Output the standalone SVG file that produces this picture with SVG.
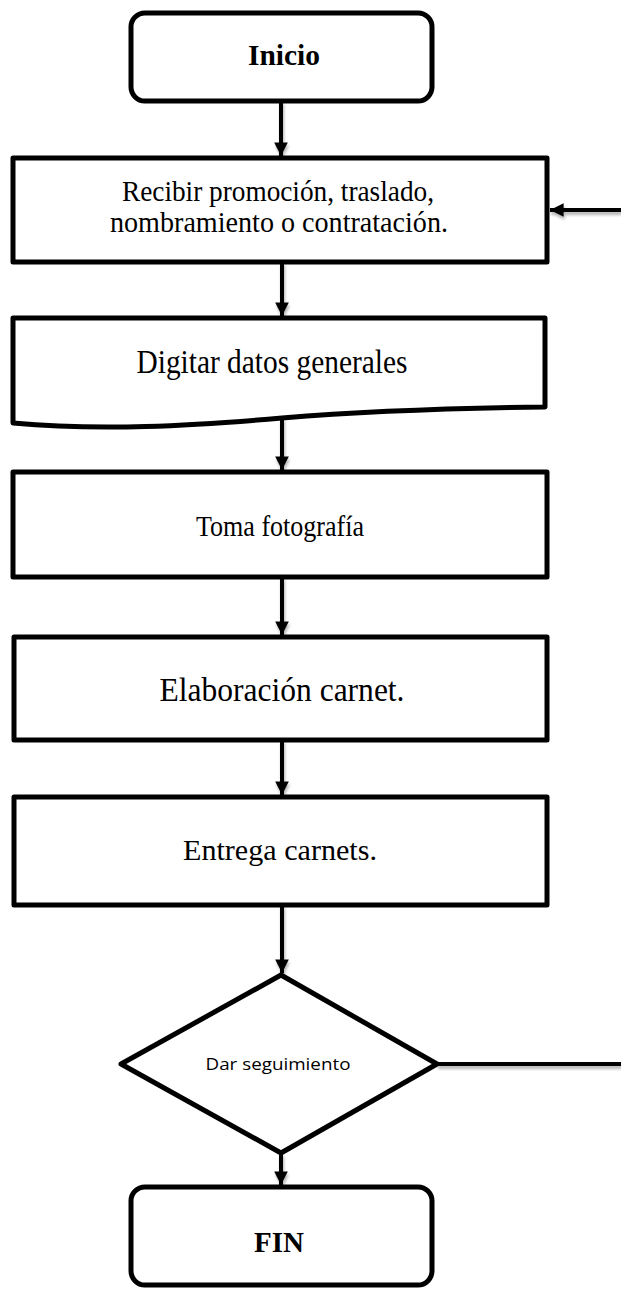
<svg xmlns="http://www.w3.org/2000/svg" width="621" height="1290" viewBox="0 0 621 1290">
  <style>
    .box { fill: #ffffff; stroke: #000000; stroke-width: 5; stroke-linejoin: round; }
    .lbl { font-family: "Liberation Serif", "Times New Roman", serif; fill: #000000; text-anchor: middle; }
    .term { font-family: "Liberation Serif", "Times New Roman", serif; font-weight: bold; fill: #000000; text-anchor: middle; }
    .dec { font-family: "Open Sans", "Liberation Sans", sans-serif; fill: #000000; text-anchor: middle; }
    .wire { fill: none; stroke: #000000; stroke-width: 4; }
  </style>
  <defs>
    <marker id="head" viewBox="0 0 10 10" refX="10" refY="5" markerWidth="3.6" markerHeight="3.4" markerUnits="strokeWidth" orient="auto">
      <path d="M0,0 L10,5 L0,10 Z" fill="#000000"/>
    </marker>
    <filter id="soft" x="-20%" y="-20%" width="140%" height="140%">
      <feGaussianBlur in="SourceAlpha" stdDeviation="1.5"/>
      <feOffset dx="1" dy="3" result="off"/>
      <feComponentTransfer><feFuncA type="linear" slope="0.3"/></feComponentTransfer>
      <feMerge><feMergeNode/><feMergeNode in="SourceGraphic"/></feMerge>
    </filter>
  </defs>

  <rect width="621" height="1290" fill="#ffffff"/>

  <!-- connectors -->
  <g id="connectors" filter="url(#soft)">
    <line class="wire" x1="281" y1="101" x2="281" y2="156" marker-end="url(#head)"/>
    <line class="wire" x1="282" y1="262" x2="282" y2="316" marker-end="url(#head)"/>
    <line class="wire" x1="282" y1="418" x2="282" y2="470" marker-end="url(#head)"/>
    <line class="wire" x1="282" y1="577" x2="282" y2="635" marker-end="url(#head)"/>
    <line class="wire" x1="282" y1="740" x2="282" y2="795" marker-end="url(#head)"/>
    <line class="wire" x1="282" y1="905" x2="282" y2="973" marker-end="url(#head)"/>
    <line class="wire" x1="281" y1="1153" x2="281" y2="1185" marker-end="url(#head)"/>
    <line class="wire" x1="437" y1="1064" x2="621" y2="1064"/>
    <line class="wire" x1="621" y1="210" x2="550" y2="210" marker-end="url(#head)"/>
  </g>

  <!-- start -->
  <g id="inicio">
    <rect class="box" x="131" y="13" width="301" height="88" rx="14"/>
    <text class="term" x="284" y="65" font-size="30" textLength="72" lengthAdjust="spacingAndGlyphs">Inicio</text>
  </g>

  <g id="recibir">
    <rect class="box" x="13" y="158" width="534" height="104"/>
    <text class="lbl" x="278" y="201" font-size="29" textLength="312" lengthAdjust="spacingAndGlyphs">Recibir promoción, traslado,</text>
    <text class="lbl" x="279" y="232" font-size="29" textLength="338" lengthAdjust="spacingAndGlyphs">nombramiento o contratación.</text>
  </g>

  <!-- document shape with wavy base -->
  <g id="digitar">
    <path class="box" d="M13,318 H545 V407 C470,408 380,410 282,418 C190,426 100,431 13,423 Z"/>
    <text class="lbl" x="272" y="373" font-size="33" textLength="271" lengthAdjust="spacingAndGlyphs">Digitar datos generales</text>
  </g>

  <g id="toma">
    <rect class="box" x="13" y="472" width="534" height="105"/>
    <text class="lbl" x="280" y="536" font-size="29" textLength="168" lengthAdjust="spacingAndGlyphs">Toma fotografía</text>
  </g>

  <g id="elaboracion">
    <rect class="box" x="14" y="637" width="533" height="103"/>
    <text class="lbl" x="282" y="701" font-size="34" textLength="245" lengthAdjust="spacingAndGlyphs">Elaboración  carnet.</text>
  </g>

  <g id="entrega">
    <rect class="box" x="14" y="797" width="533" height="108"/>
    <text class="lbl" x="280" y="860" font-size="29" textLength="194" lengthAdjust="spacingAndGlyphs">Entrega carnets.</text>
  </g>

  <!-- decision -->
  <g id="seguimiento">
    <path class="box" d="M281,975 L437,1064 L281,1153 L121,1064 Z"/>
    <text class="dec" x="278" y="1070" font-size="17" textLength="145" lengthAdjust="spacingAndGlyphs">Dar seguimiento</text>
  </g>

  <!-- end -->
  <g id="fin">
    <rect class="box" x="131" y="1187" width="301" height="98" rx="14"/>
    <text class="term" x="279" y="1252" font-size="30" textLength="50" lengthAdjust="spacingAndGlyphs">FIN</text>
  </g>
</svg>
